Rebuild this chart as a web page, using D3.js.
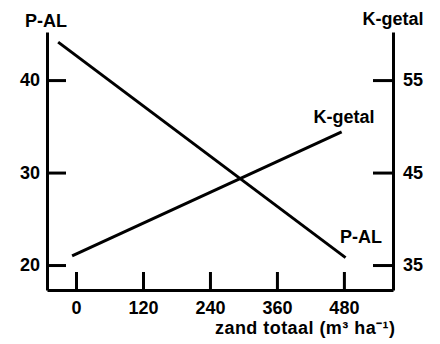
<!DOCTYPE html>
<html>
<head>
<meta charset="utf-8">
<script src="https://cdn.jsdelivr.net/npm/d3@7"></script>
<style>
  body { margin: 0; background: #fff; }
  svg text { font-family: "Liberation Sans", Arial, Helvetica, sans-serif; font-weight: bold; fill: #000; }
</style>
</head>
<body>
<div class="chart"></div>
<script>
// data
const xTicks = [0, 120, 240, 360, 480];
const leftTicks = [20, 30, 40];
const rightTicks = [35, 45, 55];

const palX = [-32, 483];
const palY = [44.1, 20.8];     // P-AL, left axis
const kX = [-7, 476];
const kY = [36.0, 49.4];       // K-getal, right axis

const width = 440, height = 344;
const margin = { top: 32, right: 47, bottom: 54, left: 47 };

const svg = d3.select('.chart')
  .append('svg')
  .attr('width', width)
  .attr('height', height);

const x = d3.scaleLinear().domain([-52, 568]).range([margin.left, width - margin.right]);
const yL = d3.scaleLinear().domain([17.3, 45.2]).range([height - margin.bottom, margin.top]);
const yR = d3.scaleLinear().domain([32.3, 60.2]).range([height - margin.bottom, margin.top]);

const axisStyle = g => {
  g.select('.domain').attr('stroke', '#000').attr('stroke-width', 3);
  g.selectAll('.tick line').attr('stroke', '#000').attr('stroke-width', 3);
  g.selectAll('.tick text').attr('font-size', 18).attr('fill', '#000');
  g.attr('font-family', null);
};

svg.append('g')
  .attr('transform', `translate(${margin.left},0)`)
  .call(d3.axisLeft(yL).tickValues(leftTicks).tickSizeInner(-19).tickSizeOuter(0).tickPadding(7))
  .call(axisStyle);

svg.append('g')
  .attr('transform', `translate(${width - margin.right},0)`)
  .call(d3.axisRight(yR).tickValues(rightTicks).tickSizeInner(-20).tickSizeOuter(0).tickPadding(10))
  .call(axisStyle);

svg.append('g')
  .attr('transform', `translate(0,${height - margin.bottom})`)
  .call(d3.axisBottom(x).tickValues(xTicks).tickSizeInner(-18).tickSizeOuter(0).tickPadding(11))
  .call(axisStyle);

const line = d3.line();

svg.append('path')
  .attr('fill', 'none')
  .attr('stroke', '#000')
  .attr('stroke-width', 3)
  .attr('d', line(palX.map((v, i) => [x(v), yL(palY[i])])));

svg.append('path')
  .attr('fill', 'none')
  .attr('stroke', '#000')
  .attr('stroke-width', 3)
  .attr('d', line(kX.map((v, i) => [x(v), yR(kY[i])])));

// labels
svg.append('text').attr('x', 46).attr('y', 27).attr('text-anchor', 'middle').attr('font-size', 18).text('P-AL');
svg.append('text').attr('x', 393).attr('y', 25).attr('text-anchor', 'middle').attr('font-size', 18).text('K-getal');
svg.append('text').attr('x', 344).attr('y', 123).attr('text-anchor', 'middle').attr('font-size', 18).text('K-getal');
svg.append('text').attr('x', 361).attr('y', 243).attr('text-anchor', 'middle').attr('font-size', 18).text('P-AL');
svg.append('text').attr('x', 395).attr('y', 334).attr('text-anchor', 'end').attr('font-size', 18)
  .attr('textLength', 180).attr('lengthAdjust', 'spacing').text('zand totaal (m³ ha⁻¹)');
</script>
</body>
</html>
